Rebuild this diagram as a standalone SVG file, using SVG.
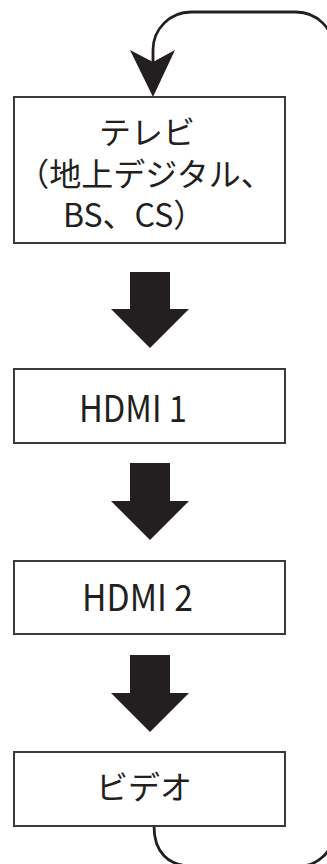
<svg xmlns="http://www.w3.org/2000/svg" width="327" height="864" viewBox="0 0 327 864">
<style>
.box{fill:#fff;stroke:#3a3a3a;stroke-width:2}
.t{font-family:"Noto Sans CJK JP","Noto Sans",sans-serif;fill:#231f20}
.big{fill:#231f20}
.loop{fill:none;stroke:#231f20;stroke-width:2.8}
</style>
<rect width="327" height="864" fill="#fff"/>
<g id="connectors">
<path class="loop" d="M153,64 V50 A38,38 0 0 1 191,12 H296 A38,38 0 0 1 334,50"/>
<polygon class="big" points="130,50 153,97 175,50 153,62"/>
<path class="loop" d="M154,826 C154,852 168,866 192,866 H300 C318,866 330,852 336,836"/>
<polygon class="big" points="130,272 170,272 170,309 189,309 150,348 111,309 130,309"/>
<polygon class="big" points="130,463 170,463 170,501 189,501 150,540 111,501 130,501"/>
<polygon class="big" points="130,655 170,655 170,693 189,693 150,732 111,693 130,693"/>
</g>
<g id="node-tv">
<rect class="box" x="14" y="97" width="271" height="146"/>
<text class="t" font-size="32"><tspan x="147" y="144" text-anchor="middle">テレビ</tspan><tspan x="145" y="186" text-anchor="middle">（地上デジタル、</tspan><tspan x="63" y="227" text-anchor="start">BS、CS）</tspan></text>
</g>
<g id="node-hdmi1">
<rect class="box" x="14" y="369" width="271" height="74"/>
<text class="t" font-size="37" x="79" y="422" textLength="108" lengthAdjust="spacingAndGlyphs">HDMI 1</text>
</g>
<g id="node-hdmi2">
<rect class="box" x="14" y="561" width="271" height="73"/>
<text class="t" font-size="37" x="82" y="611" textLength="111" lengthAdjust="spacingAndGlyphs">HDMI 2</text>
</g>
<g id="node-video">
<rect class="box" x="14" y="752" width="271" height="74"/>
<text class="t" font-size="32" x="144" y="799" text-anchor="middle">ビデオ</text>
</g>
</svg>
